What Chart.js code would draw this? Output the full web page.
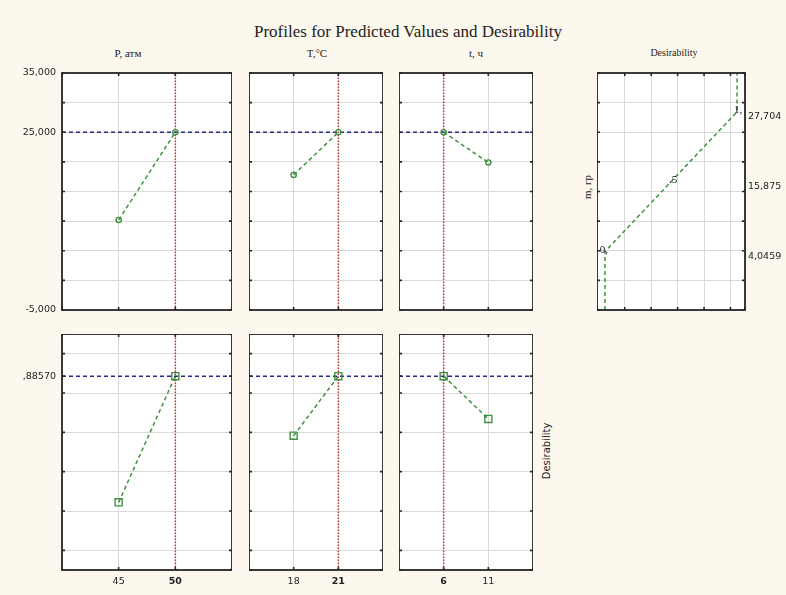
<!DOCTYPE html>
<html><head><meta charset="utf-8">
<script src="https://cdn.jsdelivr.net/npm/chart.js@4.4.0/dist/chart.umd.min.js"></script>
<style>
html,body{margin:0;padding:0;background:#fcf8ed;width:786px;height:595px;overflow:hidden;position:relative;font-family:"Liberation Serif",serif;color:#222;}
canvas{position:absolute;}
.t{position:absolute;white-space:nowrap;line-height:1;transform:translate(-50%,-50%);}
.r{transform:translate(-50%,-50%) rotate(-90deg);}
</style></head><body>
<div class="t" style="left:408px;top:31px;font-size:17px">Profiles for Predicted Values and Desirability</div>
<div class="t" style="left:128px;top:52.5px;font-size:11px">P, атм</div>
<div class="t" style="left:317px;top:52.5px;font-size:11px">T,°C</div>
<div class="t" style="left:476px;top:52.5px;font-size:11px">t, ч</div>
<div class="t" style="left:674px;top:52.5px;font-size:10px">Desirability</div>
<div class="t r" style="left:587px;top:187px;font-size:11px">m, гр</div>
<div class="t r" style="left:547px;top:451px;font-size:10px;font-family:'DejaVu Sans',sans-serif">Desirability</div>
<script>
// ---------- data ----------
const FACTORS = ['P, атм', 'T,°C', 't, ч'];
const P_LEVELS = [45, 50];
const T_LEVELS = [18, 21];
const TT_LEVELS = [6, 11];
const CURRENT = [50, 21, 6];
const M_P = [10.2, 25.0];
const M_T = [17.8, 25.0];
const M_TT = [25.0, 19.9];
const D_P = [0.244, 0.8857];
const D_T = [0.583, 0.8857];
const D_TT = [0.8857, 0.668];
const M_PRED = 25.0;
const D_PRED = 0.8857;
const X_RANGES = [[40, 55], [15, 24], [1, 16]];
const X_GRID = [[40, 45, 50, 55], [15, 18, 21, 24], [1, 6, 11, 16]];
const M_RANGE = [-5, 35];
const M_GRID = [-5, 0, 5, 10, 15, 20, 25, 30, 35];
const M_TICK_LABELS = [35, 25, -5];
const D_RANGE = [-0.1, 1.1];
const D_GRID = [-0.1, 0, 0.2, 0.4, 0.6, 0.8, 1.0, 1.1];
const DES_CURVE_D = [0, 0, 0.5, 1, 1];
const DES_CURVE_M = [-5, 4.85, 16.65, 28.45, 35];
const DES_POINT_TEXT = ['', '0,', '.5', '1,', ''];
const DES_LIMITS_M = [4.0459, 15.875, 27.704];
const DES_X_RANGE = [-0.06, 1.06];
const DES_X_GRID = [-0.06, 0.15, 0.35, 0.55, 0.75, 0.95, 1.06];

// ---------- styles ----------
const GREEN = '#3f9140', NAVY = '#27287f', RED = '#c8393a', GRID = '#d9d9d9', FRAME = '#262626';
const TICK_FONT = {family: 'DejaVu Sans', size: 9.5};
const fmtM = v => v.toFixed(3).replace('.', ',');
const fmtD = v => v.toFixed(5).replace(/^0/, '').replace('.', ',');

const framePlugin = {
  id: 'frame',
  beforeDraw(c) {
    const a = c.chartArea, x = c.ctx;
    x.save(); x.fillStyle = '#ffffff';
    x.fillRect(a.left, a.top, a.right - a.left, a.bottom - a.top); x.restore();
  },
  afterDraw(c) {
    const a = c.chartArea, x = c.ctx;
    x.save(); x.strokeStyle = FRAME; x.lineWidth = 1.6;
    x.beginPath();
    const ys = c.scales.y, xs = c.scales.x;
    ys.ticks.forEach(t => {
      const p = ys.getPixelForValue(t.value);
      x.moveTo(a.left, p); x.lineTo(a.left + 3, p);
      x.moveTo(a.right, p); x.lineTo(a.right - 3, p);
    });
    xs.ticks.forEach(t => {
      const p = xs.getPixelForValue(t.value);
      x.moveTo(p, a.top); x.lineTo(p, a.top + 3);
      x.moveTo(p, a.bottom); x.lineTo(p, a.bottom - 3);
    });
    x.stroke();
    x.lineWidth = 1.8;
    x.strokeRect(a.left, a.top, a.right - a.left, a.bottom - a.top);
    x.restore();
  }
};

const pointTextPlugin = {
  id: 'pointText',
  afterDatasetsDraw(c) {
    const txt = c.options.plugins.pointText && c.options.plugins.pointText.labels;
    if (!txt) return;
    const meta = c.getDatasetMeta(0), x = c.ctx;
    x.save(); x.font = '11px "Liberation Serif"'; x.fillStyle = '#111'; x.textBaseline = 'middle';
    meta.data.forEach((el, i) => {
      if (!txt[i]) return;
      const d = c.data.datasets[0].data[i].x;
      x.textAlign = d <= 0 ? 'right' : (d >= 1 ? 'left' : 'center');
      const dx = d <= 0 ? 3 : (d >= 1 ? -3 : 2);
      x.fillText(txt[i], el.x + dx, el.y - 2);
    });
    x.restore();
  }
};

function zeroPad(s) { s.paddingLeft = 0; s.paddingRight = 0; s.paddingTop = 0; s.paddingBottom = 0; }

function makePanel(o) {
  const cv = document.createElement('canvas');
  const W = o.w + o.L + o.R, H = o.h + o.T + o.B;
  cv.width = W; cv.height = H;
  cv.style.left = (o.l - o.L) + 'px'; cv.style.top = (o.t - o.T) + 'px';
  cv.style.width = W + 'px'; cv.style.height = H + 'px';
  document.body.appendChild(cv);
  const scales = {
    x: {
      type: 'linear', position: 'bottom', min: o.xRange[0], max: o.xRange[1],
      afterBuildTicks: s => { s.ticks = o.xGrid.map(v => ({value: v})); },
      afterFit: s => { s.height = o.B; zeroPad(s); },
      grid: {color: GRID, lineWidth: 1, drawTicks: false},
      border: {display: false},
      ticks: {
        display: !!o.xLabels, padding: 6, autoSkip: false, maxRotation: 0, color: '#222',
        font: ctx => ({family: 'DejaVu Sans', size: 9.5, weight: (ctx.tick && ctx.tick.value === o.cur) ? 'bold' : 'normal'}),
        callback: v => (o.xLabels && o.xLabels.includes(v)) ? String(v) : ''
      }
    },
    y: {
      type: 'linear', position: 'left', min: o.yRange[0], max: o.yRange[1],
      afterBuildTicks: s => { s.ticks = o.yGrid.map(v => ({value: v})); },
      afterFit: s => { s.width = o.L; zeroPad(s); },
      grid: {color: ctx => (ctx.tick && o.yNoGrid && o.yNoGrid.includes(ctx.tick.value)) ? 'rgba(0,0,0,0)' : GRID, lineWidth: 1, drawTicks: false},
      border: {display: false},
      ticks: {
        display: !!o.yLabels, padding: 6, autoSkip: false, color: '#222', font: TICK_FONT,
        callback: v => (o.yLabels && o.yLabels.includes(v)) ? o.yFmt(v) : ''
      }
    }
  };
  if (o.rightLabels) {
    scales.y2 = {
      type: 'linear', position: 'right', min: o.yRange[0], max: o.yRange[1],
      afterBuildTicks: s => { s.ticks = o.rightLabels.map(v => ({value: v})); },
      afterFit: s => { s.width = o.R; zeroPad(s); },
      grid: {display: false, drawTicks: false}, border: {display: false},
      ticks: {padding: 3, autoSkip: false, color: '#222', font: TICK_FONT, callback: v => String(v).replace('.', ',')}
    };
  }
  new Chart(cv, {
    type: 'line',
    data: {datasets: o.datasets},
    options: {
      responsive: false, animation: false, devicePixelRatio: 1,
      layout: {autoPadding: false, padding: {left: 0, top: o.T, right: o.rightLabels ? 0 : o.R, bottom: 0}},
      plugins: {legend: {display: false}, tooltip: {enabled: false}, title: {display: false},
        pointText: {labels: o.pointText}},
      scales
    },
    plugins: [framePlugin, pointTextPlugin]
  });
}

function profileDs(levels, vals, square) {
  return {
    data: levels.map((lv, i) => ({x: lv, y: vals[i]})),
    borderColor: GREEN, borderWidth: 1.5, borderDash: [4, 3],
    pointStyle: square ? 'rect' : 'circle', pointRadius: square ? 5 : 2.6,
    pointBorderColor: GREEN, pointBorderWidth: 1.4, pointBackgroundColor: 'rgba(255,255,255,0)', pointHoverRadius: 0
  };
}
function hLine(xr, y) {
  return {data: [{x: xr[0], y}, {x: xr[1], y}], borderColor: NAVY, borderWidth: 1.5, borderDash: [4, 3], pointRadius: 0};
}
function vLine(x, yr) {
  return {data: [{x, y: yr[0]}, {x, y: yr[1]}], borderColor: RED, borderWidth: 1.5, borderDash: [1.5, 1.5], pointRadius: 0};
}

const COLS = [[62, 232], [249, 383], [399, 533]];
const ROW_TOP = [73, 310], ROW_BOT = [334, 570];
const LEVELS = [P_LEVELS, T_LEVELS, TT_LEVELS];
const M_VALS = [M_P, M_T, M_TT];
const D_VALS = [D_P, D_T, D_TT];

for (let i = 0; i < 3; i++) {
  const [l, r] = COLS[i];
  // top row: predicted m
  makePanel({
    l, t: ROW_TOP[0], w: r - l, h: ROW_TOP[1] - ROW_TOP[0], L: i === 0 ? 62 : 0, R: 0, T: 10, B: 10,
    xRange: X_RANGES[i], xGrid: X_GRID[i], cur: CURRENT[i],
    yRange: M_RANGE, yGrid: M_GRID, yLabels: i === 0 ? M_TICK_LABELS : null, yFmt: fmtM,
    datasets: [profileDs(LEVELS[i], M_VALS[i], false), hLine(X_RANGES[i], M_PRED), vLine(CURRENT[i], M_RANGE)]
  });
  // bottom row: desirability
  makePanel({
    l, t: ROW_BOT[0], w: r - l, h: ROW_BOT[1] - ROW_BOT[0], L: i === 0 ? 62 : 0, R: 0, T: 0, B: 25,
    xRange: X_RANGES[i], xGrid: X_GRID[i], xLabels: LEVELS[i], cur: CURRENT[i],
    yRange: D_RANGE, yGrid: D_GRID.concat([D_PRED]).sort((a, b) => a - b), yNoGrid: [D_PRED],
    yLabels: i === 0 ? [D_PRED] : null, yFmt: fmtD,
    datasets: [profileDs(LEVELS[i], D_VALS[i], true), hLine(X_RANGES[i], D_PRED), vLine(CURRENT[i], D_RANGE)]
  });
}

// desirability function panel
makePanel({
  l: 597, t: ROW_TOP[0], w: 148, h: ROW_TOP[1] - ROW_TOP[0], L: 0, R: 41, T: 10, B: 10,
  xRange: DES_X_RANGE, xGrid: DES_X_GRID,
  yRange: M_RANGE, yGrid: M_GRID, yLabels: null, yFmt: fmtM,
  rightLabels: DES_LIMITS_M,
  pointText: DES_POINT_TEXT,
  datasets: [{
    data: DES_CURVE_D.map((d, i) => ({x: d, y: DES_CURVE_M[i]})),
    borderColor: GREEN, borderWidth: 1.5, borderDash: [4, 3], pointRadius: 0
  }]
});
</script>
</body></html>
